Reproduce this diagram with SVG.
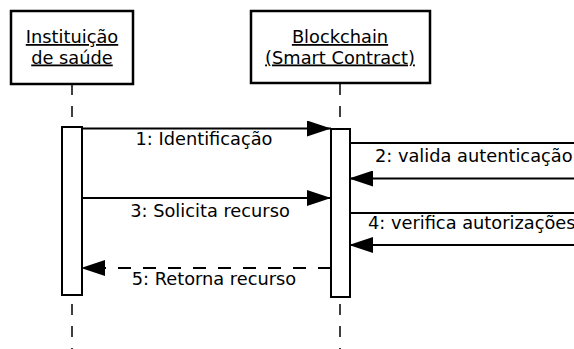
<svg xmlns="http://www.w3.org/2000/svg" width="574" height="349" viewBox="0 0 574 349">
<defs>
<style>
.box{fill:#fff;stroke:#000;stroke-width:2.5}
.bar{fill:#fff;stroke:#000;stroke-width:2}
.life{stroke:#000;stroke-width:1.5;stroke-dasharray:11 11;fill:none}
.msg{stroke:#000;stroke-width:2;fill:none}
.dash{stroke-dasharray:13 12}
text{font-family:"DejaVu Sans",sans-serif;font-size:17.8px;fill:#000}
.title{text-anchor:middle;text-decoration:underline}
.lbl{text-anchor:middle}
</style>
<marker id="ah" markerWidth="24" markerHeight="16" refX="24" refY="8" orient="auto" markerUnits="userSpaceOnUse">
<path d="M0,0 L24,8 L0,16 Z" fill="#000"/>
</marker>
</defs>
<g id="lifelines">
<line class="life" x1="72" y1="84" x2="72" y2="349"/>
<line class="life" x1="340" y1="84" x2="340" y2="349"/>
</g>
<g id="inst">
<rect class="box" x="11" y="11" width="122" height="73"/>
<text class="title" x="72" y="43">Instituição</text>
<text class="title" x="72" y="63.5">de saúde</text>
</g>
<g id="blockchain">
<rect class="box" x="251" y="11" width="179" height="72"/>
<text class="title" x="340" y="43">Blockchain</text>
<text class="title" x="340" y="63.5">(Smart Contract)</text>
</g>
<g id="activations">
<rect class="bar" x="62" y="127" width="20" height="168"/>
<rect class="bar" x="331" y="129" width="19" height="168"/>
</g>
<g id="connectors">
<line class="msg" x1="82" y1="128.5" x2="331" y2="128.5" marker-end="url(#ah)"/>
<line class="msg" x1="350" y1="143" x2="580" y2="143"/>
<line class="msg" x1="580" y1="178.5" x2="349" y2="178.5" marker-end="url(#ah)"/>
<line class="msg" x1="82" y1="198" x2="331" y2="198" marker-end="url(#ah)"/>
<line class="msg" x1="350" y1="213" x2="580" y2="213"/>
<line class="msg" x1="580" y1="245" x2="349" y2="245" marker-end="url(#ah)"/>
<line class="msg dash" x1="331" y1="268" x2="81" y2="268" marker-end="url(#ah)"/>
</g>
<g id="labels">
<text class="lbl" x="204" y="145">1: Identificação</text>
<text x="375" y="162">2: valida autenticação</text>
<text class="lbl" x="210" y="217">3: Solicita recurso</text>
<text x="368" y="229">4: verifica autorizações</text>
<text class="lbl" x="214" y="285">5: Retorna recurso</text>
</g>
</svg>
